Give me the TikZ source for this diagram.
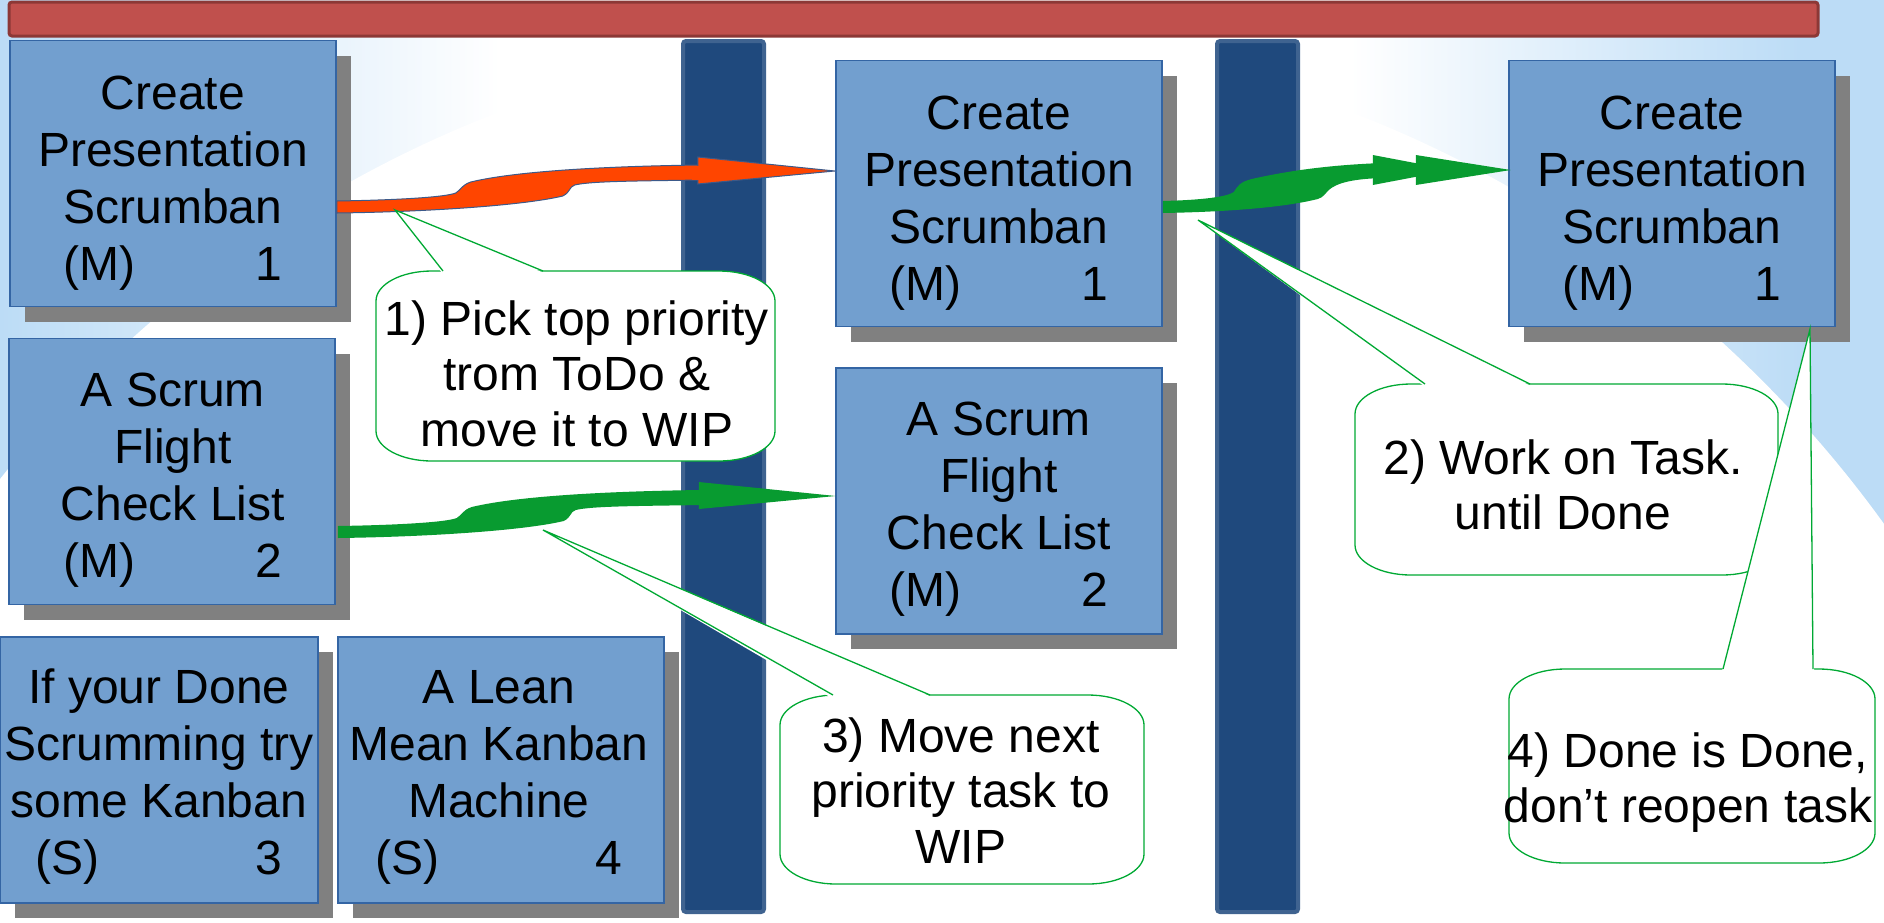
\documentclass[tikz,border=0pt]{standalone}
\usepackage{fontspec}
\setmainfont{Liberation Sans}
\usetikzlibrary{shadows,calc}
\definecolor{lb}{HTML}{BCDCF6}
\definecolor{barred}{HTML}{C0504D}
\definecolor{barredd}{HTML}{8C3836}
\definecolor{colblue}{HTML}{1F497D}
\definecolor{colblued}{HTML}{3F6390}
\definecolor{cardfill}{HTML}{729FCF}
\definecolor{cardline}{HTML}{3465A4}
\definecolor{shadowgray}{HTML}{808080}
\definecolor{arrred}{HTML}{FF4500}
\definecolor{arrredline}{HTML}{3C5A8A}
\definecolor{arrgreen}{HTML}{089B30}
\definecolor{callgreen}{HTML}{00A933}
% rounded box with elliptical corners: left, top, right, bottom
\newcommand\mycallbox[4]{(#1,#2+30) .. controls (#1,#2+13.4) and (#1+25,#2) .. (#1+56,#2)
  -- (#3-56,#2) .. controls (#3-25,#2) and (#3,#2+13.4) .. (#3,#2+30)
  -- (#3,#4-30) .. controls (#3,#4-13.4) and (#3-25,#4) .. (#3-56,#4)
  -- (#1+56,#4) .. controls (#1+25,#4) and (#1,#4-13.4) .. (#1,#4-30) -- cycle}
\begin{document}
\begin{tikzpicture}[x=0.5pt,y=-0.5pt,
  card/.style={fill=cardfill, draw=cardline, line width=0.75pt,
    minimum width=163pt, minimum height=133pt, inner sep=0pt,
    drop shadow={shadow xshift=7.5pt, shadow yshift=-7.5pt, opacity=1, fill=shadowgray, draw=none}},
  cardtext/.style={align=center, font=\fontsize{24}{28.5}\selectfont, inner sep=0pt},
  calltext/.style={align=center, font=\fontsize{24}{27.75}\selectfont, inner sep=0pt},
  callbox/.style={fill=white, draw=callgreen, line width=0.65pt},
  pointerline/.style={draw=callgreen, line width=0.65pt},
  column/.style={fill=colblue, draw=colblued, line width=2pt, rounded corners=1.5pt},
  redarrow/.style={fill=arrred, draw=arrredline, line width=0.5pt},
  greenarrow/.style={fill=arrgreen, draw=none},
]
\useasboundingbox (0,0) rectangle (1884,922);
% background
\begin{scope}
  \clip (0,0) rectangle (1884,922);
  \fill[white] (0,0) rectangle (1884,922);
  \shade[left color=lb, right color=white] (0,0) rectangle (500,922);
  \shade[left color=white, right color=lb] (1350,0) rectangle (1800,922);
  \fill[lb] (1799,0) rectangle (1884,922);
  \fill[white] (925,1215) circle[radius=591pt];
\end{scope}
% top bar and columns
\draw[fill=barred, draw=barredd, line width=1.5pt, rounded corners=1.5pt] (9,2) rectangle (1818,36);
\draw[column] (683,41) rectangle (764,912);
\draw[column] (1217,41) rectangle (1298,912);
% cards
\node[card] (b1L) at (173,173.5) {};
\node[card] (b2L) at (172,471.5) {};
\node[card, minimum width=159pt] (b3) at (159,770) {};
\node[card] (b4) at (501,770) {};
\node[card] (b1M) at (999,193.5) {};
\node[card] (b2M) at (999,501) {};
\node[card] (b1R) at (1672,193.5) {};
\node[cardtext] (t1L) at (173,183) {Create\\Presentation\\Scrumban\\(M)\hspace{60pt}1};
\node[cardtext] (t2L) at (173,480) {A Scrum\\Flight\\Check List\\(M)\hspace{60pt}2};
\node[cardtext] (t3) at (159,777) {If your Done\\Scrumming try\\some Kanban\\(S)\hspace{78pt}3};
\node[cardtext] (t4) at (499,777) {A Lean\\Mean Kanban\\Machine\\(S)\hspace{78pt}4};
\node[cardtext] (t1M) at (999,203) {Create\\Presentation\\Scrumban\\(M)\hspace{60pt}1};
\node[cardtext] (t2M) at (999,509) {A Scrum\\Flight\\Check List\\(M)\hspace{60pt}2};
\node[cardtext] (t1R) at (1672,203) {Create\\Presentation\\Scrumban\\(M)\hspace{60pt}1};
% arrows
\coordinate (rs) at ($(b1L.east)+(0,33.5)$);
\coordinate (g1s) at ($(b2L.east)+(2,60.5)$);
\coordinate (g2s) at ($(b1M.east)+(0,13.5)$);
\begin{scope}[shift={(rs)}]
  \path[redarrow] (0,-6) .. controls (64,-7) and (109,-10) .. (119,-14)
    .. controls (124,-17) and (125,-22) .. (134,-25)
    .. controls (184,-37) and (284,-41) .. (364,-42) -- (364,-27)
    .. controls (304,-26) and (254,-26) .. (238,-22)
    .. controls (232,-20) and (234,-15) .. (226,-11)
    .. controls (184,-1) and (84,5) .. (0,6) -- cycle;
  \path[redarrow] (361,-50) -- (498,-36) -- (361,-23) -- cycle;
  \fill[arrred] (355,-41.5) rectangle (366,-27.5);
\end{scope}
\begin{scope}[shift={(g1s)}]
  \path[greenarrow] (0,-6) .. controls (64,-7) and (109,-10) .. (119,-14)
    .. controls (124,-17) and (125,-22) .. (134,-25)
    .. controls (184,-37) and (284,-41) .. (364,-42) -- (364,-27)
    .. controls (304,-26) and (254,-26) .. (238,-22)
    .. controls (232,-20) and (234,-15) .. (226,-11)
    .. controls (184,-1) and (84,5) .. (0,6) -- cycle;
  \path[greenarrow] (361,-50) -- (498,-36) -- (361,-23) -- cycle;
\end{scope}
\begin{scope}[shift={(g2s)}]
  \path[greenarrow] (0,-6) .. controls (39,-7) and (64,-10) .. (71,-15)
    .. controls (75,-21) and (77,-25) .. (89,-28)
    .. controls (129,-37) and (169,-42) .. (219,-44) -- (219,-29)
    .. controls (189,-28) and (174,-24) .. (166,-17)
    .. controls (162,-13) and (161,-10) .. (155,-8)
    .. controls (119,1) and (59,5) .. (0,6) -- cycle;
  \path[greenarrow] (210,-52) -- (289,-37) -- (210,-22) -- cycle;
  \path[greenarrow] (253,-52) -- (348,-37) -- (253,-22) -- cycle;
\end{scope}
% callout 1
\path[callbox] \mycallbox{376}{271}{775}{461};
\coordinate (p1) at (395,210);
\fill[white] (p1) -- (442,273) -- (544,273) -- cycle;
\draw[pointerline] (443,271) -- (p1) -- (543,271);
\node[calltext] (c1t) at (577,373.5) {1) Pick top priority\\trom ToDo \&\\move it to WIP};
% callout 3
\path[callbox] \mycallbox{780}{695}{1144}{884};
\coordinate (p3) at (543,530);
\fill[white] (p3) -- (830,697) -- (932,697) -- cycle;
\draw[pointerline] (833,695) -- (p3) -- (930,695);
\node[calltext] (c3t) at (961,790.5) {3) Move next\\priority task to\\WIP};
% callout 2
\path[callbox] \mycallbox{1355}{384}{1778}{575};
\coordinate (p2) at (1198,220);
\fill[white] (p2) -- (1424,386) -- (1531,386) -- cycle;
\draw[pointerline] (1425,384) -- (p2) -- (1530,384);
\node[calltext] (c2t) at (1563,485) {2) Work on Task.\\until Done};
% callout 4
\path[callbox] \mycallbox{1509}{669}{1875}{863};
\coordinate (p4) at (1810,329);
\fill[white] (p4) -- (1722,671) -- (1814,671) -- cycle;
\draw[pointerline] (1723,669) -- (p4) -- (1813,669);
\node[calltext] (c4t) at (1688,782.5) {4) Done is Done,\\don’t reopen task};
\end{tikzpicture}
\end{document}
